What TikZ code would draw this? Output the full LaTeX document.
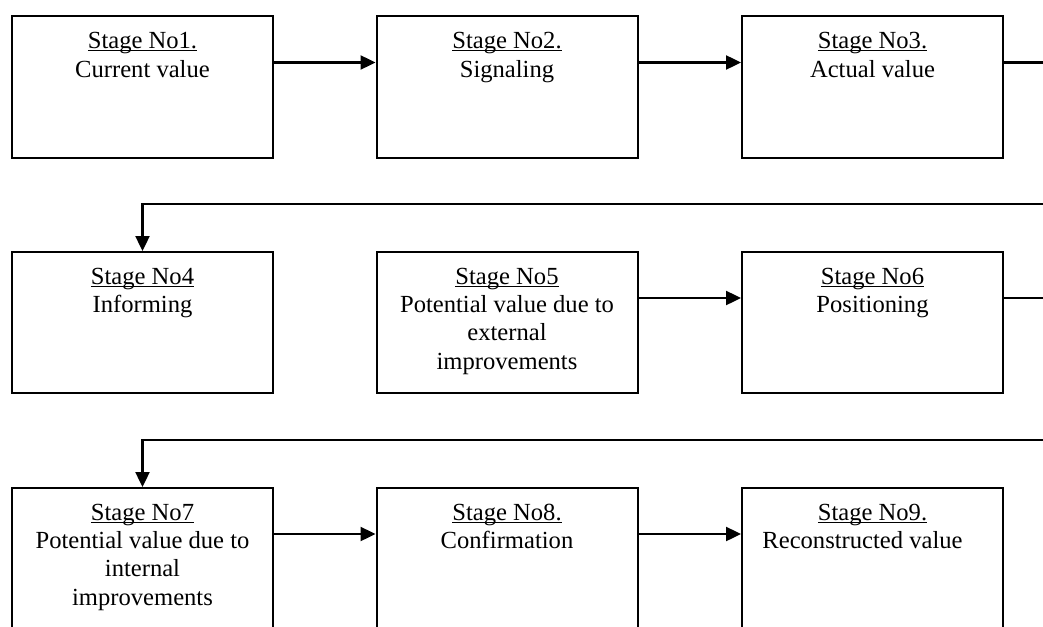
\documentclass[tikz,border=0pt]{standalone}
\usepackage{fontspec}
\setmainfont{Liberation Serif}
\usetikzlibrary{arrows.meta,calc}

\newsavebox{\stagebin}
\newcommand{\stageul}[1]{\sbox{\stagebin}{#1}\rlap{\rule[-1.4pt]{\wd\stagebin}{0.6pt}}\usebox{\stagebin}}

\tikzset{
	stagebox/.style={draw,line width=1pt,minimum width=130.5pt,minimum height=70.5pt,inner sep=0pt},
	stagetext/.style={anchor=north,align=center,inner sep=0pt,font=\fontsize{12.3}{14.2}\selectfont},
	flow/.style={line width=1.2pt,-{Triangle[length=7.5pt,width=7pt]}}
}

\begin{document}
\begin{tikzpicture}[x=0.5pt,y=-0.5pt]
		\def\colA{142.5} % column centres
		\def\colB{507}
		\def\colC{872.5}
		\def\rowA{87}    % row centres
		\def\rowB{322.5}
		\def\rowC{558.5}
		\def\txt{16.5}   % text top below box top
		\def\arr{47}     % arrows below box top
		
		\useasboundingbox (0,0) rectangle (1043,626);
		\clip (0,0) rectangle (1043,626);
		
		% first row
		\node[stagebox] (s1) at (\colA,\rowA) {};
		\node[stagebox] (s2) at (\colB,\rowA) {};
		\node[stagebox] (s3) at (\colC,\rowA) {};
		\node[stagetext] (t1) at ($(s1.north)+(0,\txt)$) {\stageul{Stage No1.}\\Current value};
		\node[stagetext] (t2) at ($(s2.north)+(0,\txt)$) {\stageul{Stage No2.}\\Signaling};
		\node[stagetext] (t3) at ($(s3.north)+(0,\txt)$) {\stageul{Stage No3.}\\Actual value};
		
		% second row
		\node[stagebox] (s4) at (\colA,\rowB) {};
		\node[stagebox] (s5) at (\colB,\rowB) {};
		\node[stagebox] (s6) at (\colC,\rowB) {};
		\node[stagetext] (t4) at ($(s4.north)+(0,\txt)$) {\stageul{Stage No4}\\Informing};
		\node[stagetext] (t5) at ($(s5.north)+(0,\txt)$) {\stageul{Stage No5}\\Potential value due to\\external\\improvements};
		\node[stagetext] (t6) at ($(s6.north)+(0,\txt)$) {\stageul{Stage No6}\\Positioning};
		
		% third row
		\node[stagebox] (s7) at (\colA,\rowC) {};
		\node[stagebox] (s8) at (\colB,\rowC) {};
		\node[stagebox] (s9) at (\colC,\rowC) {};
		\node[stagetext] (t7) at ($(s7.north)+(0,\txt)$) {\stageul{Stage No7}\\Potential value due to\\internal\\improvements};
		\node[stagetext] (t8) at ($(s8.north)+(0,\txt)$) {\stageul{Stage No8.}\\Confirmation};
		\node[stagetext] (t9) at ($(s9.north)+(0,\txt)$) {\stageul{Stage No9.}\\Reconstructed value\hspace*{10pt}};
		
		% arrows
		\draw[flow] ($(s1.north east)+(0,\arr)$) -- ($(s2.north west)+(0,\arr)$);
		\draw[flow] ($(s2.north east)+(0,\arr)$) -- ($(s3.north west)+(0,\arr)$);
		\draw[flow] ($(s3.north east)+(0,\arr)$) -- ++(60,0) |- ($(s4.north)+(0,-47)$) -- (s4.north);
		\draw[flow] ($(s5.north east)+(0,\arr)$) -- ($(s6.north west)+(0,\arr)$);
		\draw[flow] ($(s6.north east)+(0,\arr)$) -- ++(60,0) |- ($(s7.north)+(0,-47)$) -- (s7.north);
		\draw[flow] ($(s7.north east)+(0,\arr)$) -- ($(s8.north west)+(0,\arr)$);
		\draw[flow] ($(s8.north east)+(0,\arr)$) -- ($(s9.north west)+(0,\arr)$);
		
	\end{tikzpicture}
\end{document}
